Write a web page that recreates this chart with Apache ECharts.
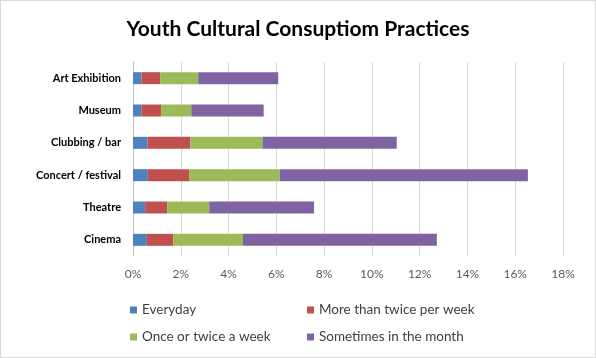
<!DOCTYPE html>
<html><head><meta charset="utf-8">
<script src="https://cdn.jsdelivr.net/npm/echarts@6/dist/echarts.min.js"></script>
<style>html,body{margin:0;padding:0;background:#fff}#c{width:594px;height:356px;border:1px solid #d9d9d9}</style>
</head><body><div id="c"></div>
<script>
const categories = ["Cinema","Theatre","Concert / festival","Clubbing / bar","Museum","Art Exhibition"];
const everyday = [0.58,0.51,0.62,0.61,0.36,0.36];
const moreThanTwice = [1.10,0.92,1.73,1.79,0.82,0.79];
const onceOrTwice = [2.92,1.76,3.79,3.02,1.26,1.58];
const sometimes = [8.12,4.39,10.39,5.62,3.03,3.35];
const seriesNames = ["Everyday","More than twice per week","Once or twice a week","Sometimes in the month"];
const colors = ["#4F81BD","#C0504D","#9BBB59","#8064A2"];
const values = [everyday, moreThanTwice, onceOrTwice, sometimes];
const chart = echarts.init(document.getElementById('c'));
const legendPos = [[124,297],[301,297],[124,324],[301,324]];
chart.setOption({
  animation:false,
  title:{text:"Youth Cultural Consuptiom Practices",left:'center',top:13,textStyle:{fontFamily:'Lato',fontWeight:'bold',fontSize:21,color:'#000'}},
  legend: seriesNames.map((n,i)=>({data:[n],left:legendPos[i][0],top:legendPos[i][1],itemWidth:7,itemHeight:7,itemGap:4,icon:'rect',textStyle:{fontFamily:'Lato',fontSize:13.5,color:'#404040'}})),
  grid:{left:132,right:32,top:61,bottom:101},
  xAxis:{type:'value',min:0,max:18,interval:2,axisLabel:{formatter:'{value}%',fontFamily:'Lato',fontSize:12,color:'#595959',margin:12},splitLine:{lineStyle:{color:'#d9d9d9'}},axisLine:{show:false},axisTick:{show:false}},
  yAxis:{type:'category',data:categories,axisLine:{lineStyle:{color:'#bfbfbf'}},axisTick:{show:false},axisLabel:{fontFamily:'Lato',fontWeight:'bold',fontSize:11,color:'#000',margin:12}},
  series: seriesNames.map((n,i)=>({name:n,type:'bar',stack:'s',data:values[i],barWidth:12,itemStyle:{color:colors[i]}}))
});
</script></body></html>
